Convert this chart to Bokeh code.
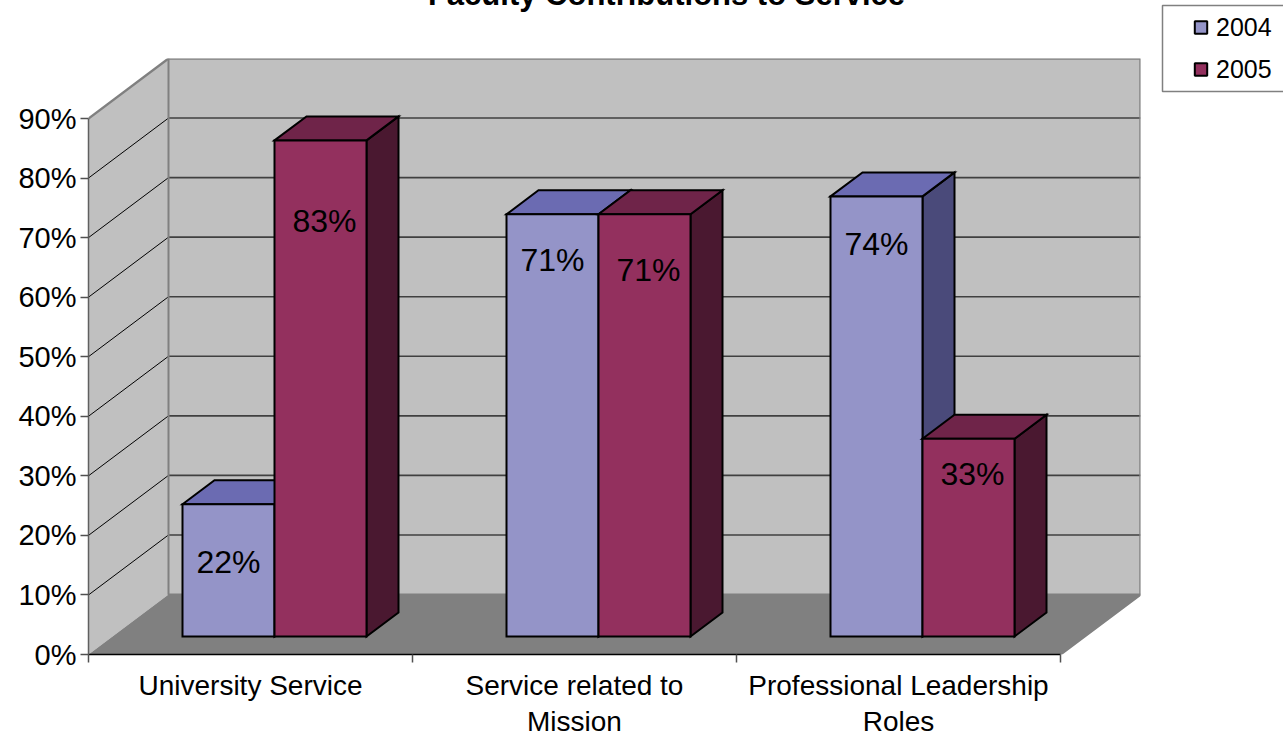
from bokeh.plotting import figure
from bokeh.models import (Range1d, LinearAxis, FixedTicker, Label, Legend, LegendItem,
                          ColumnDataSource)
from bokeh.embed import file_html
from bokeh.resources import INLINE

title_text = "Faculty Contributions to Service"
categories = ["University Service", "Service related to\nMission", "Professional Leadership\nRoles"]
series_names = ["2004", "2005"]
values_2004 = [22.2, 70.9, 73.9]
values_2005 = [83.3, 70.9, 33.2]
labels_2004 = ["22%", "71%", "74%"]
labels_2005 = ["83%", "71%", "33%"]
label_drop_2004 = [58, 46, 48]
label_drop_2005 = [81, 56, 35]
y_ticks = [0, 10, 20, 30, 40, 50, 60, 70, 80, 90]

FONT = "Liberation Sans"
PX_CAT = 324.0          # pixels per category
PX_PCT = 536 / 90       # pixels per percent
WALL_DX, WALL_DY = 80 / PX_CAT, 60 / PX_PCT
BAR_DX, BAR_DY = 24 / PX_CAT, 18 / PX_PCT
DEPTH_DX, DEPTH_DY = 32 / PX_CAT, 24 / PX_PCT
BAR_W = 92 / PX_CAT
n = len(categories)
ymax = y_ticks[-1]
FRONT_2004, TOP_2004, SIDE_2004 = "#9494C8", "#6B6BB2", "#4A4A7A"
FRONT_2005, TOP_2005, SIDE_2005 = "#93305E", "#6F2449", "#4A1830"

p = figure(width=1283, height=735, frame_height=596, frame_width=1052,
           output_backend="svg", toolbar_location=None,
           x_range=Range1d(0, n + WALL_DX), y_range=Range1d(0, ymax + WALL_DY),
           x_axis_type=None, y_axis_type=None,
           min_border_left=88, min_border_right=143, min_border_top=58, min_border_bottom=81,
           outline_line_color=None, background_fill_color="white", border_fill_color="white")
p.grid.visible = False

# square legend keys: markers give a small key centred in a wide glyph slot (hidden behind the walls)
key_2004 = p.scatter([i + 0.5 for i in range(n)], values_2004, marker="square", size=1,
                     fill_color=FRONT_2004, line_color="black", line_width=2)
key_2005 = p.scatter([i + 0.5 for i in range(n)], values_2005, marker="square", size=1,
                     fill_color=FRONT_2005, line_color="black", line_width=2)

# walls and floor
WALL_EDGE = "#808080"
p.patch([0, 0, WALL_DX, WALL_DX], [0, ymax, ymax + WALL_DY, WALL_DY], fill_color="#C0C0C0", line_color=None)
p.patch([WALL_DX, WALL_DX, n + WALL_DX, n + WALL_DX], [WALL_DY, ymax + WALL_DY, ymax + WALL_DY, WALL_DY],
        fill_color="#C0C0C0", line_color=None)
p.patch([0, n, n + WALL_DX, WALL_DX], [0, 0, WALL_DY, WALL_DY], fill_color="#808080", line_color=None)

inner = y_ticks[1:-1]
p.segment([0] * len(inner), inner, [WALL_DX] * len(inner), [v + WALL_DY for v in inner],
          line_color="#000000", line_width=1)
p.segment([WALL_DX] * len(inner), [v + WALL_DY for v in inner], [n + WALL_DX] * len(inner),
          [v + WALL_DY for v in inner], line_color="#404040", line_width=1.6)
p.line([0, WALL_DX, n + WALL_DX, n + WALL_DX, n], [ymax, ymax + WALL_DY, ymax + WALL_DY, WALL_DY, 0],
       line_color=WALL_EDGE, line_width=2.4)
p.line([WALL_DX, WALL_DX, n + WALL_DX], [ymax + WALL_DY, WALL_DY, WALL_DY], line_color=WALL_EDGE, line_width=2)


def draw_series(values, left_shift, front, top, side):
    lefts = [i + 0.5 + BAR_DX + left_shift for i in range(n)]
    rights = [l + BAR_W for l in lefts]
    tops = [v + BAR_DY for v in values]
    opts = dict(line_color="black", line_width=2, line_join="miter")
    p.patches([[r, r + DEPTH_DX, r + DEPTH_DX, r] for r in rights],
              [[BAR_DY, BAR_DY + DEPTH_DY, t + DEPTH_DY, t] for t in tops], fill_color=side, **opts)
    p.patches([[l, l + DEPTH_DX, r + DEPTH_DX, r] for l, r in zip(lefts, rights)],
              [[t, t + DEPTH_DY, t + DEPTH_DY, t] for t in tops], fill_color=top, **opts)
    return p.vbar(x=[l + BAR_W / 2 for l in lefts], width=BAR_W, bottom=BAR_DY, top=tops, fill_color=front, **opts)


draw_series(values_2004, -BAR_W, FRONT_2004, TOP_2004, SIDE_2004)
draw_series(values_2005, 0, FRONT_2005, TOP_2005, SIDE_2005)

for vals, labs, drops, shift, xo in ((values_2004, labels_2004, label_drop_2004, -BAR_W / 2, 0),
                                     (values_2005, labels_2005, label_drop_2005, BAR_W / 2, 4)):
    src = ColumnDataSource(dict(x=[i + 0.5 + BAR_DX + shift for i in range(n)],
                                y=[v + BAR_DY for v in vals], t=labs, d=drops))
    p.text(x="x", y="y", text="t", y_offset="d", x_offset=xo, source=src, text_align="center",
           text_baseline="middle", text_font_size="32px", text_color="black",
           text_font={"value": FONT})

# axes
yax = LinearAxis(ticker=FixedTicker(ticks=y_ticks), bounds=(0, ymax),
                 major_label_overrides={v: f"{v}%" for v in y_ticks})
yax.major_label_text_font = FONT
yax.major_label_text_font_size = "29px"
yax.major_label_text_color = "black"
yax.major_label_standoff = 4
yax.major_tick_in = 0
yax.major_tick_out = 8
yax.minor_tick_line_color = None
yax.major_tick_line_color = "#505050"
yax.major_tick_line_width = 1.5
yax.axis_line_color = "#606060"
yax.axis_line_width = 1.5
p.add_layout(yax, "left")

xax = LinearAxis(ticker=FixedTicker(ticks=[i + 0.5 for i in range(n)], minor_ticks=list(range(n + 1))),
                 bounds=(0, n),
                 major_label_overrides={i + 0.5: c for i, c in enumerate(categories)})
xax.major_label_text_font = FONT
xax.major_label_text_font_size = "28px"
xax.major_label_text_color = "black"
xax.major_label_text_line_height = 1.17
xax.major_label_standoff = 7
xax.major_tick_in = 0
xax.major_tick_out = 0
xax.minor_tick_in = 0
xax.minor_tick_out = 8
xax.minor_tick_line_color = "#505050"
xax.minor_tick_line_width = 1.5
xax.axis_line_color = "black"
xax.axis_line_width = 1.5
p.add_layout(xax, "below")

# title runs off the top edge, as in the reference
p.add_layout(Label(x=(n + WALL_DX) / 2 + 52 / PX_CAT, y=ymax + WALL_DY + 64 / PX_PCT, text=title_text,
                   text_font=FONT, text_font_size="31px", text_font_style="bold", text_color="black",
                   text_align="center", text_baseline="middle"), "above")

legend = Legend(items=[LegendItem(label=series_names[0], renderers=[key_2004]),
                       LegendItem(label=series_names[1], renderers=[key_2005])],
                location=(22, 543), orientation="vertical", margin=0, padding=23,
                label_text_font=FONT, label_text_font_size="25px", label_text_color="black",
                glyph_width=31, glyph_height=38, label_standoff=0, spacing=4,
                label_width=43, border_line_color="white", border_line_alpha=0, background_fill_alpha=0)
p.add_layout(legend, "right")

# legend frame runs off the right edge, as in the reference
p.add_layout(Label(x=(1162 - 88) / PX_CAT, y=(654 - 91) / PX_PCT, text=" ",
                   text_font=FONT, text_font_size="12px", text_align="left", text_baseline="bottom",
                   padding=(70, 36), border_line_color="#808080", border_line_width=1.5), "right")

open("out.html", "w").write(file_html(p, INLINE))
